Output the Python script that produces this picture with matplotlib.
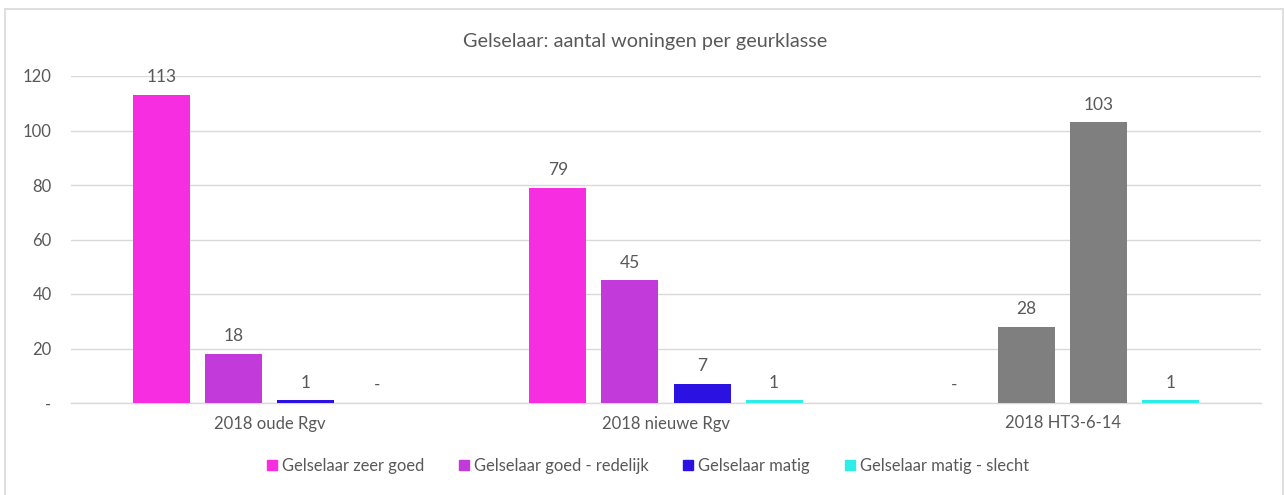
import matplotlib
matplotlib.use("Agg")
import matplotlib.pyplot as plt
from matplotlib.patches import Rectangle
import numpy as np

categories = ["2018 oude Rgv", "2018 nieuwe Rgv", "2018 HT3-6-14"]
series_names = ["Gelselaar zeer goed", "Gelselaar goed - redelijk",
                "Gelselaar matig", "Gelselaar matig - slecht"]
values = {
    "Gelselaar zeer goed": [113, 79, 0],
    "Gelselaar goed - redelijk": [18, 45, 28],
    "Gelselaar matig": [1, 7, 103],
    "Gelselaar matig - slecht": [0, 1, 1],
}
series_colors = ["#F72DE1", "#C23ADA", "#2B12E2", "#2EEDE6"]
override_gray = {(1, 2): "#7F7F7F", (2, 2): "#7F7F7F"}
yticks = [0, 20, 40, 60, 80, 100, 120]
ytick_labels = ["-", "20", "40", "60", "80", "100", "120"]
title = "Gelselaar: aantal woningen per geurklasse"

plt.rcParams['font.family'] = ['Lato', 'DejaVu Sans']
txt = "#595959"
W, H = 1285, 495
fig = plt.figure(figsize=(W / 100, H / 100), dpi=100)
fig.patches.append(Rectangle((5 / W, -0.01), (1283 - 5) / W, 1 - 9 / H + 0.01,
                             transform=fig.transFigure, fill=False,
                             edgecolor="#D9D9D9", linewidth=1.2))

ax = fig.add_axes([71 / W, 92 / H, (1261 - 71) / W, 327 / H])
x = np.arange(len(categories))
step = 72 / 396.5
bw = 57 / 396.5
for j, name in enumerate(series_names):
    cols = [override_gray.get((j, i), series_colors[j]) for i in range(len(categories))]
    pos = x + (j - 1.5) * step
    ax.bar(pos, values[name], width=bw, color=cols, zorder=3)
    for p, v in zip(pos, values[name]):
        ax.annotate("-" if v == 0 else str(v), (p, v), xytext=(0, 7),
                    textcoords="offset points", ha="center", va="bottom",
                    fontsize=12.5, color=txt)

ax.set_xlim(-0.5, len(categories) - 0.5)
ax.set_ylim(0, 120)
ax.set_yticks(yticks)
ax.set_yticklabels(ytick_labels)
ax.set_xticks(x)
ax.set_xticklabels(categories)
ax.tick_params(axis="both", length=0, labelsize=12, colors=txt)
ax.tick_params(axis="x", pad=9)
ax.tick_params(axis="y", pad=14)
ax.grid(axis="y", color="#D9D9D9", linewidth=1, zorder=0)
for s in ["top", "right", "left"]:
    ax.spines[s].set_visible(False)
ax.spines["bottom"].set_color("#D9D9D9")
ax.spines["bottom"].set_linewidth(1)

fig.text(645 / W, 1 - 42 / H, title, ha="center", va="center",
         fontsize=14.3, color=txt)

handles = [Rectangle((0, 0), 1, 1, color=c) for c in series_colors]
fig.legend(handles, series_names, loc="center", bbox_to_anchor=(648 / W, 1 - 466 / H),
           ncol=4, frameon=False, fontsize=11.9, labelcolor=txt,
           handlelength=0.6, handleheight=0.6, handletextpad=0.3, columnspacing=2.1)

fig.savefig("out.png", dpi=100, facecolor="white")
